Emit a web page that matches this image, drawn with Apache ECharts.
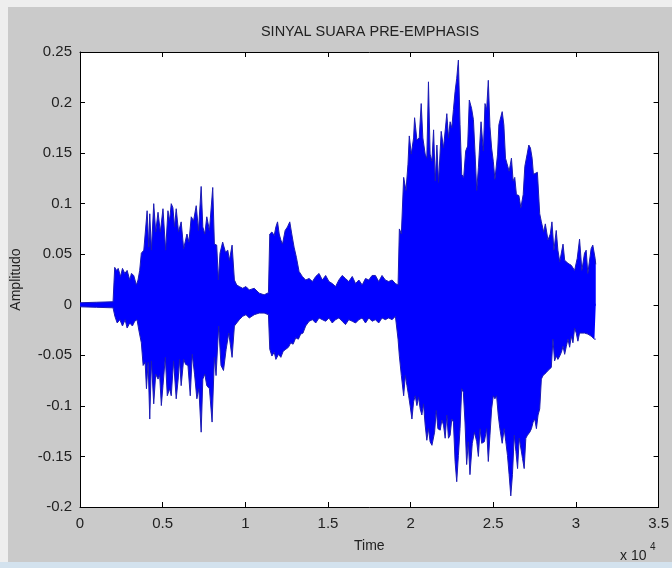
<!DOCTYPE html>
<html>
<head>
<meta charset="utf-8">
<script src="https://cdn.jsdelivr.net/npm/echarts@6/dist/echarts.min.js"></script>
<style>
  html, body { margin: 0; padding: 0; background: #cacaca; }
  #chart { width: 672px; height: 568px; }
</style>
</head>
<body>
<div id="chart"></div>
<script>
// envelope of the pre-emphasis waveform: [sample index, amplitude]
var upperEnvelope = [
  [0,0.002],[1000,0.0025],[2000,0.003],[2100,0.037],[2210,0.034],[2310,0.036],[2450,0.028],[2570,0.036],
  [2710,0.031],[2850,0.034],[3010,0.0245],[3110,0.031],[3250,0.029],[3410,0.0196],[3510,0.0245],[3610,0.034],
  [3710,0.051],[3860,0.054],[4060,0.093],[4160,0.057],[4220,0.090],[4320,0.054],[4460,0.100],[4580,0.072],
  [4720,0.0915],[4860,0.072],[5020,0.095],[5180,0.054],[5320,0.093],[5420,0.083],[5520,0.100],[5620,0.096],
  [5720,0.077],[5820,0.095],[5960,0.072],[6120,0.082],[6270,0.0555],[6470,0.070],[6590,0.062],[6730,0.087],
  [6870,0.083],[7030,0.098],[7170,0.0735],[7330,0.117],[7430,0.077],[7550,0.070],[7670,0.087],[7830,0.0735],
  [8030,0.116],[8130,0.060],[8270,0.059],[8370,0.0245],[8470,0.051],[8630,0.062],[8800,0.052],[8940,0.054],
  [9040,0.044],[9200,0.059],[9340,0.0245],[9480,0.0196],[9640,0.018],[9840,0.0163],[10040,0.018],[10240,0.0147],
  [10540,0.0163],[10840,0.0115],[11140,0.0098],[11400,0.012],[11480,0.070],[11610,0.072],[11750,0.0686],[11850,0.077],
  [11950,0.082],[12050,0.070],[12150,0.064],[12250,0.060],[12410,0.0735],[12550,0.077],[12690,0.082],[12810,0.070],
  [12950,0.057],[13090,0.047],[13250,0.033],[13450,0.028],[13650,0.0245],[13860,0.026],[14060,0.023],[14260,0.028],
  [14460,0.031],[14660,0.0245],[14860,0.029],[15060,0.023],[15260,0.021],[15460,0.018],[15660,0.0245],[15860,0.029],
  [16060,0.026],[16260,0.023],[16470,0.028],[16670,0.021],[16870,0.0245],[17070,0.0196],[17270,0.026],[17470,0.0245],
  [17670,0.029],[17870,0.029],[18070,0.023],[18270,0.029],[18470,0.0245],[18670,0.023],[18880,0.0245],[19080,0.021],
  [19240,0.0196],[19320,0.075],[19440,0.070],[19580,0.126],[19720,0.113],[19840,0.139],[19920,0.167],[20040,0.149],
  [20180,0.165],[20240,0.185],[20380,0.163],[20520,0.165],[20640,0.199],[20740,0.165],[20880,0.149],[20980,0.145],
  [21080,0.2205],[21180,0.149],[21290,0.142],[21390,0.173],[21490,0.1225],[21590,0.158],[21690,0.121],[21850,0.1715],
  [21990,0.155],[22190,0.189],[22290,0.165],[22390,0.181],[22490,0.175],[22590,0.193],[22690,0.211],[22790,0.224],
  [22890,0.242],[22990,0.178],[23090,0.129],[23210,0.126],[23330,0.152],[23450,0.157],[23550,0.2025],[23690,0.194],
  [23800,0.183],[23900,0.149],[24000,0.113],[24100,0.1355],[24260,0.181],[24400,0.152],[24500,0.199],[24600,0.193],
  [24700,0.222],[24800,0.176],[24900,0.155],[25000,0.142],[25100,0.124],[25260,0.149],[25340,0.178],[25460,0.186],
  [25540,0.191],[25640,0.178],[25740,0.145],[25860,0.145],[25960,0.132],[26100,0.145],[26200,0.1225],[26300,0.126],
  [26400,0.109],[26550,0.108],[26670,0.096],[26810,0.109],[26910,0.137],[27050,0.149],[27150,0.158],[27250,0.155],
  [27350,0.145],[27430,0.129],[27550,0.129],[27670,0.131],[27810,0.090],[27910,0.082],[28050,0.072],[28150,0.080],
  [28310,0.064],[28450,0.070],[28550,0.082],[28670,0.054],[28810,0.0735],[28910,0.054],[29020,0.0425],[29220,0.060],
  [29320,0.044],[29520,0.041],[29720,0.039],[29920,0.034],[30080,0.046],[30220,0.065],[30360,0.034],[30520,0.051],
  [30620,0.054],[30720,0.031],[30920,0.0555],[31020,0.059],[31160,0.046],[31200,0.040]
];
var lowerEnvelope = [
  [0,-0.002],[1000,-0.0025],[2000,-0.003],[2110,-0.0114],[2250,-0.018],[2410,-0.0147],[2570,-0.021],[2730,-0.0147],
  [2850,-0.023],[3010,-0.018],[3170,-0.021],[3310,-0.0163],[3450,-0.0147],[3570,-0.026],[3710,-0.0376],[3820,-0.060],
  [3940,-0.057],[4020,-0.083],[4120,-0.057],[4220,-0.113],[4320,-0.0555],[4460,-0.098],[4580,-0.0686],[4720,-0.0735],
  [4820,-0.070],[4920,-0.0997],[5020,-0.080],[5160,-0.052],[5280,-0.090],[5420,-0.083],[5520,-0.090],[5660,-0.0555],
  [5820,-0.093],[5940,-0.0735],[6020,-0.054],[6120,-0.080],[6270,-0.054],[6390,-0.059],[6530,-0.060],[6670,-0.090],
  [6790,-0.049],[6930,-0.0686],[7070,-0.093],[7190,-0.083],[7330,-0.126],[7430,-0.0735],[7550,-0.0686],[7670,-0.080],
  [7830,-0.083],[7990,-0.116],[8130,-0.052],[8230,-0.070],[8390,-0.021],[8530,-0.060],[8680,-0.065],[8840,-0.044],
  [9000,-0.028],[9200,-0.052],[9340,-0.021],[9480,-0.018],[9640,-0.0147],[9840,-0.0114],[10040,-0.0098],[10240,-0.013],
  [10540,-0.0098],[10840,-0.0082],[11140,-0.0082],[11400,-0.0098],[11480,-0.044],[11610,-0.0507],[11750,-0.047],[11850,-0.054],
  [12010,-0.049],[12150,-0.052],[12290,-0.046],[12450,-0.044],[12610,-0.042],[12750,-0.0376],[12890,-0.039],[13050,-0.0327],
  [13210,-0.034],[13350,-0.029],[13490,-0.028],[13650,-0.021],[13860,-0.0163],[14060,-0.0147],[14260,-0.018],[14460,-0.013],
  [14660,-0.0147],[14860,-0.0163],[15060,-0.013],[15260,-0.018],[15460,-0.0147],[15660,-0.013],[15860,-0.0163],[16060,-0.0196],
  [16260,-0.0147],[16470,-0.0163],[16670,-0.018],[16870,-0.0147],[17070,-0.013],[17270,-0.018],[17470,-0.013],[17670,-0.0163],
  [17870,-0.0147],[18070,-0.018],[18270,-0.013],[18470,-0.0147],[18670,-0.013],[18880,-0.0147],[19080,-0.0114],[19240,-0.034],
  [19320,-0.0507],[19440,-0.070],[19580,-0.090],[19680,-0.070],[19780,-0.080],[19880,-0.090],[19980,-0.101],[20080,-0.113],
  [20180,-0.096],[20280,-0.090],[20380,-0.0997],[20480,-0.0915],[20580,-0.103],[20680,-0.109],[20780,-0.098],[20880,-0.119],
  [20980,-0.134],[21080,-0.1225],[21180,-0.1355],[21290,-0.139],[21450,-0.126],[21550,-0.1045],[21650,-0.1225],[21790,-0.124],
  [21890,-0.114],[21990,-0.119],[22090,-0.132],[22190,-0.109],[22290,-0.132],[22390,-0.129],[22490,-0.113],[22590,-0.116],
  [22690,-0.155],[22790,-0.175],[22890,-0.149],[22990,-0.1225],[23090,-0.083],[23190,-0.0866],[23290,-0.116],[23390,-0.158],
  [23490,-0.1355],[23590,-0.168],[23730,-0.137],[23860,-0.126],[24000,-0.1355],[24100,-0.150],[24200,-0.1225],[24300,-0.137],
  [24460,-0.1355],[24600,-0.1225],[24700,-0.155],[24800,-0.129],[24900,-0.103],[25000,-0.090],[25100,-0.093],[25200,-0.090],
  [25300,-0.109],[25400,-0.1225],[25540,-0.137],[25660,-0.1225],[25760,-0.1355],[25860,-0.149],[25960,-0.168],[26060,-0.189],
  [26160,-0.168],[26270,-0.129],[26370,-0.145],[26470,-0.162],[26570,-0.132],[26670,-0.131],[26770,-0.152],[26870,-0.162],
  [26970,-0.132],[27070,-0.129],[27210,-0.126],[27310,-0.1225],[27410,-0.116],[27510,-0.113],[27610,-0.1225],[27710,-0.109],
  [27810,-0.103],[27910,-0.0735],[28010,-0.070],[28110,-0.0686],[28210,-0.067],[28310,-0.065],[28410,-0.0637],[28510,-0.062],
  [28610,-0.034],[28710,-0.0555],[28810,-0.0507],[28910,-0.054],[29020,-0.0507],[29120,-0.047],[29220,-0.041],[29320,-0.049],
  [29420,-0.041],[29520,-0.034],[29620,-0.042],[29720,-0.031],[29820,-0.0376],[29920,-0.023],[30020,-0.028],[30120,-0.036],
  [30220,-0.028],[30320,-0.029],[30520,-0.028],[30720,-0.029],[30920,-0.031],[31120,-0.034],[31200,-0.034]
];
// first and last sample of the recording
var signalSpan = [0, 31200];
var xRange = [0, 35000], xStep = 5000;
var yRange = [-0.2, 0.25], yStep = 0.05;

var FONT = "'Liberation Sans', Arial, sans-serif";
var TXT = '#222';
var myChart = echarts.init(document.getElementById('chart'));

function frameAxis(pos, isX) {
    return {
        type: 'value',
        position: pos,
        min: isX ? xRange[0] : yRange[0],
        max: isX ? xRange[1] : yRange[1],
        interval: isX ? xStep : yStep,
        axisLine: { show: true, onZero: false, lineStyle: { color: '#000', width: 1 } },
        axisTick: { show: true, inside: true, length: 5, lineStyle: { color: '#000' } },
        axisLabel: { show: false },
        splitLine: { show: false }
    };
}

var xMain = frameAxis('bottom', true);
xMain.axisLabel = {
    show: true, margin: 9, fontSize: 15, fontFamily: FONT, color: TXT,
    formatter: function (v) { return String(v / 10000); }
};
xMain.name = 'Time';
xMain.nameLocation = 'middle';
xMain.nameGap = 32;
xMain.nameTextStyle = { fontSize: 14, fontFamily: FONT, color: TXT };

var yMain = frameAxis('left', false);
yMain.axisLabel = {
    show: true, margin: 8, fontSize: 15, fontFamily: FONT, color: TXT,
    formatter: function (v) { return String(+v.toFixed(2)); }
};
yMain.name = 'Amplitudo';
yMain.nameLocation = 'middle';
yMain.nameGap = 57;
yMain.nameRotate = 90;
yMain.nameTextStyle = { fontSize: 14, fontFamily: FONT, color: TXT };

var waveLine = { width: 1, color: '#1c1cb4' };
var waveFill = { color: '#0000ff', opacity: 1, origin: 'auto' };

var option = {
    backgroundColor: '#cacaca',
    animation: false,
    grid: {
        left: 80, right: 11, top: 52, bottom: 61,
        show: true, backgroundColor: '#fff', borderWidth: 0
    },
    xAxis: [xMain, frameAxis('top', true)],
    yAxis: [yMain, frameAxis('right', false)],
    graphic: [
        { type: 'rect', shape: { x: 0, y: 0, width: 672, height: 7 }, style: { fill: '#eeeeee' }, silent: true },
        { type: 'rect', shape: { x: 0, y: 0, width: 8, height: 568 }, style: { fill: '#eeeeee' }, silent: true },
        { type: 'rect', shape: { x: 0, y: 562, width: 672, height: 6 }, style: { fill: '#d3e2ee' }, silent: true },
        { type: 'text', x: 370, y: 24, style: { text: 'SINYAL SUARA PRE-EMPHASIS', fontSize: 14.5, fontFamily: FONT, fill: TXT, textAlign: 'center' }, silent: true },
        { type: 'text', x: 620, y: 549, style: { text: 'x 10', fontSize: 14, fontFamily: FONT, fill: TXT }, silent: true },
        { type: 'text', x: 650, y: 542, style: { text: '4', fontSize: 10, fontFamily: FONT, fill: TXT }, silent: true }
    ],
    series: [
        {
            name: 'upper', type: 'line', data: upperEnvelope,
            symbol: 'none', smooth: false, silent: true,
            lineStyle: waveLine, areaStyle: waveFill
        },
        {
            name: 'lower', type: 'line', data: lowerEnvelope,
            symbol: 'none', smooth: false, silent: true,
            lineStyle: waveLine, areaStyle: waveFill
        },
        {
            // covers the seam where the two filled halves meet at zero
            name: 'zero', type: 'line', z: 3,
            data: [[signalSpan[0], 0], [signalSpan[1], 0]],
            symbol: 'none', silent: true,
            lineStyle: { width: 2, color: '#0000ff' }
        }
    ]
};
myChart.setOption(option);
window.addEventListener('resize', function () {
    myChart.resize();
});
</script>
</body>
</html>
